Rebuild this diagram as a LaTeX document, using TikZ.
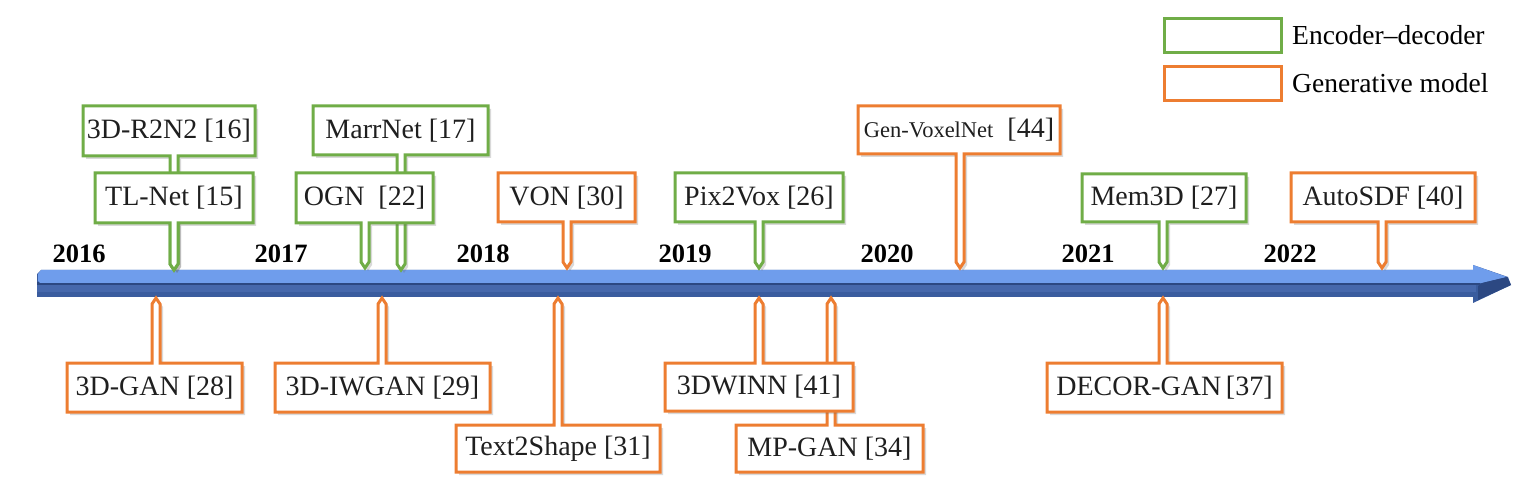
\documentclass[tikz,border=0pt]{standalone}
\usepackage{fontspec}
\setmainfont{Liberation Serif}
\usetikzlibrary{shadows}
\definecolor{cgreen}{HTML}{70AD47}
\definecolor{corange}{HTML}{ED7D31}
\definecolor{alight}{HTML}{6F9DEC}
\definecolor{adark}{HTML}{3A5C9E}
\definecolor{adarker}{HTML}{2C4882}
\definecolor{amid}{HTML}{4668AC}
\tikzset{
  callbox/.style={draw=#1, fill=white, line width=3pt, line join=miter,
    drop shadow={shadow xshift=3pt, shadow yshift=-3pt, opacity=0.25, fill=black!60}},
  lbl/.style={inner sep=0pt, font=\fontsize{28}{30}\selectfont, text=black!88},
  yr/.style={inner sep=0pt, anchor=base, font=\fontsize{26.5}{28}\selectfont\bfseries},
  legbox/.style={draw=#1, line width=3pt, fill=white, minimum width=117pt, minimum height=34pt, inner sep=0pt},
  legtxt/.style={inner sep=0pt, anchor=west, font=\fontsize{27.5}{30}\selectfont}
}
% callout with pointer below the box
\newcommand\calldown[9]{%
  \path[callbox=#8] (#2,#3) -- (#4,#3) -- (#4,#5) -- ({#6+4},#5) -- ({#6+4},{#7-6}) -- (#6,#7) -- ({#6-4},{#7-6}) -- ({#6-4},#5) -- (#2,#5) -- cycle;
  \node[lbl] (#1) at ({(#2+#4)/2},{(#3+#5)/2}) {#9};
}
% callout with pointer above the box
\newcommand\callup[9]{%
  \path[callbox=#8] (#2,#3) -- ({#6-4},#3) -- ({#6-4},{#7+6}) -- (#6,#7) -- ({#6+4},{#7+6}) -- ({#6+4},#3) -- (#4,#3) -- (#4,#5) -- (#2,#5) -- cycle;
  \node[lbl] (#1) at ({(#2+#4)/2},{(#3+#5)/2}) {#9};
}
\begin{document}
\begin{tikzpicture}[x=1pt,y=-1pt]
\useasboundingbox (0,0) rectangle (1539,486);
% ---- timeline arrow ----
\fill[adark] (37,274) -- (41,270) -- (1473,270) -- (1473,265) -- (1508,277) -- (1511,285) -- (1473,303) -- (1473,297) -- (37,297) -- cycle;
\fill[amid] (37,285) -- (1476,285) -- (1476,292) -- (37,292) -- cycle;
\fill[adarker] (37,282.5) -- (1480,282.5) -- (1480,285) -- (37,285) -- cycle;
\fill[alight] (41,270) -- (1473,270) -- (1473,265) -- (1507,277) -- (1482,283) -- (40,283) -- (38,281) -- (38,274) -- cycle;
\fill[adarker] (1482,283) -- (1507,277) -- (1511,285) -- (1478,300) -- (1478,286) -- cycle;
% ---- years ----
\node[yr] (y2016) at (79,263) {2016};
\node[yr] (y2017) at (281,263) {2017};
\node[yr] (y2018) at (483,263) {2018};
\node[yr] (y2019) at (685,263) {2019};
\node[yr] (y2020) at (887,263) {2020};
\node[yr] (y2021) at (1088,263) {2021};
\node[yr] (y2022) at (1290,263) {2022};
% ---- callouts above ----
\calldown{r2n2}{83}{106}{255}{156}{174}{270}{cgreen}{3D-R2N2 [16]}
\calldown{tlnet}{95}{173}{253}{223}{174}{270}{cgreen}{TL-Net [15]}
\calldown{marrnet}{313}{106}{488}{155}{401}{270}{cgreen}{MarrNet [17]}
\calldown{ogn}{296}{173}{433}{223}{365}{268}{cgreen}{OGN~ [22]}
\calldown{von}{498}{173}{635}{222}{567}{268}{corange}{VON [30]}
\calldown{pix2vox}{675}{173}{843}{222}{759}{268}{cgreen}{Pix2Vox [26]}
\calldown{genvox}{858}{106}{1060}{154}{960}{268}{corange}{{\fontsize{22.5}{24}\selectfont Gen-VoxelNet}~ [44]}
\calldown{mem3d}{1082}{174}{1246}{222}{1163}{268}{cgreen}{Mem3D [27]}
\calldown{autosdf}{1291}{173}{1475}{222}{1382}{268}{corange}{AutoSDF [40]}
% ---- callouts below ----
\callup{gan3d}{67}{363}{242}{412}{156}{298}{corange}{3D-GAN [28]}
\callup{iwgan}{275}{363}{490}{412}{382}{298}{corange}{3D-IWGAN [29]}
\callup{t2s}{456}{425}{660}{472}{558}{298}{corange}{Text2Shape [31]}
\callup{mpgan}{736}{425}{923}{472}{831}{298}{corange}{MP-GAN [34]}
\callup{winn}{665}{363}{853}{411}{759}{298}{corange}{3DWINN [41]}
\callup{decor}{1047}{363}{1282}{412}{1163}{298}{corange}{DECOR-GAN\,[37]}
% ---- legend ----
\node[legbox=cgreen] (lg1) at (1223,35.5) {};
\node[legbox=corange] (lg2) at (1223,83.5) {};
\node[legtxt] (lt1) at (1292,35) {Encoder–decoder};
\node[legtxt] (lt2) at (1292,83) {Generative model};
\end{tikzpicture}
\end{document}
